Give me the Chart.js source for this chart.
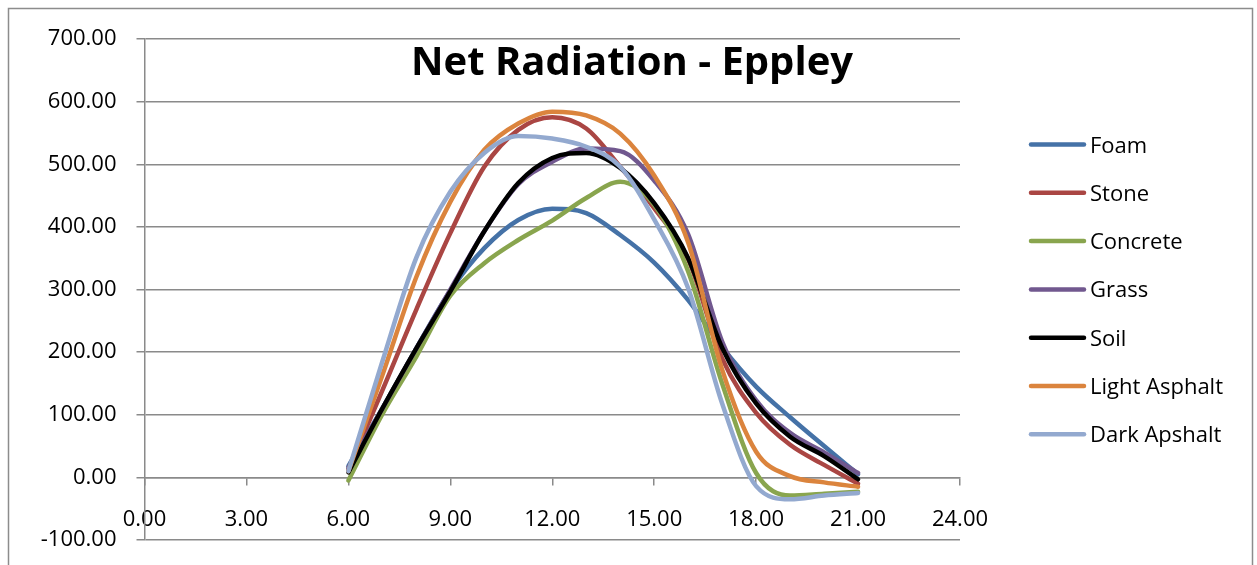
<!DOCTYPE html>
<html>
<head>
<meta charset="utf-8">
<script src="https://cdn.jsdelivr.net/npm/chart.js@4.4.1/dist/chart.umd.min.js"></script>
<style>
  html, body { margin: 0; padding: 0; background: #ffffff; }
  #wrap { width: 1257px; height: 565px; }
</style>
</head>
<body>
<div id="wrap"><canvas id="c" width="1257" height="565"></canvas></div>
<script>
// ---- data ----
const chartTitle = "Net Radiation - Eppley";
const hours = [6, 7, 8, 9, 10, 11, 12, 13, 14, 15, 16, 17, 18, 19, 20, 21];
const seriesNames = ["Foam", "Stone", "Concrete", "Grass", "Soil", "Light Asphalt", "Dark Apshalt"];
const foam         = [18, 110, 206, 298, 366, 411, 429, 422, 387, 343, 283, 208, 145, 96, 50, 5];
const stone        = [12, 139, 268, 390, 496, 555, 575, 557, 496, 430, 348, 190, 103, 52, 20, -10];
const concrete     = [-5, 101, 193, 290, 342, 379, 410, 446, 472, 435, 329, 150, 7, -29, -26, -23];
const grass        = [15, 110, 206, 300, 393, 468, 504, 525, 521, 474, 388, 217, 123, 71, 40, 7];
const soil         = [8, 110, 206, 297, 393, 470, 510, 518, 494, 438, 350, 207, 118, 65, 34, -3];
const lightAsphalt = [10, 163, 320, 440, 523, 565, 584, 578, 549, 482, 375, 172, 41, 2, -8, -15];
const darkApshalt  = [10, 185, 351, 456, 518, 545, 541, 528, 496, 412, 302, 118, -14, -35, -29, -25];
const xTickValues = [0, 3, 6, 9, 12, 15, 18, 21, 24];
const yTickValues = [-100, 0, 100, 200, 300, 400, 500, 600, 700];

// ---- styles ----
const seriesValues = [foam, stone, concrete, grass, soil, lightAsphalt, darkApshalt];
const seriesColors = ["#4572A7", "#AA4643", "#89A54E", "#71588F", "#000000", "#DB843D", "#93A9CF"];
const gridColor = "#8a8a8a";
const FONT = "'Open Sans', 'DejaVu Sans', sans-serif";

Chart.defaults.font.family = FONT;
Chart.defaults.font.size = 22;
Chart.defaults.color = "#000000";

const datasets = seriesNames.map((name, i) => ({
  label: name,
  data: hours.map((h, k) => ({ x: h, y: seriesValues[i][k] })),
  borderColor: seriesColors[i],
  backgroundColor: seriesColors[i],
  borderWidth: 4.5,
  pointRadius: 0,
  pointHoverRadius: 0,
  cubicInterpolationMode: "monotone",
  fill: false,
  order: -i,
  borderCapStyle: "round",
  borderJoinStyle: "round"
}));

const framePlugin = {
  id: "frame",
  beforeDraw(chart) {
    const ctx = chart.ctx;
    ctx.save();
    ctx.fillStyle = "#ffffff";
    ctx.fillRect(0, 0, chart.width, chart.height);
    ctx.strokeStyle = "#8c8c8c";
    ctx.lineWidth = 1.5;
    ctx.strokeRect(8.5, 8.5, 1244, 620);
    ctx.restore();
  }
};

const titlePlugin = {
  id: "insideTitle",
  afterDatasetsDraw(chart) {
    const ctx = chart.ctx;
    ctx.save();
    ctx.font = "bold 40px " + FONT;
    ctx.fillStyle = "#000000";
    ctx.textAlign = "center";
    ctx.textBaseline = "alphabetic";
    ctx.fillText(chartTitle, 632, 75);
    ctx.restore();
  }
};

const legendPlugin = {
  id: "sideLegend",
  afterDraw(chart) {
    const ctx = chart.ctx;
    ctx.save();
    chart.data.datasets.forEach((ds, i) => {
      const y = 144.5 + i * 48.3;
      ctx.strokeStyle = ds.borderColor;
      ctx.lineWidth = 4.5;
      ctx.lineCap = "round";
      ctx.beginPath();
      ctx.moveTo(1031, y);
      ctx.lineTo(1084, y);
      ctx.stroke();
      ctx.font = "22px " + FONT;
      ctx.fillStyle = "#000000";
      ctx.textAlign = "left";
      ctx.textBaseline = "alphabetic";
      ctx.fillText(ds.label, 1090, y + 8);
    });
    ctx.restore();
  }
};

new Chart(document.getElementById("c"), {
  type: "line",
  data: { datasets },
  plugins: [framePlugin, titlePlugin, legendPlugin],
  options: {
    responsive: false,
    animation: false,
    events: [],
    layout: { padding: { left: 10, right: 297, top: 39, bottom: 25 } },
    plugins: {
      legend: { display: false },
      title: { display: false },
      tooltip: { enabled: false }
    },
    scales: {
      x: {
        type: "linear",
        position: { y: 0 },
        min: 0,
        max: 24,
        afterBuildTicks(scale) { scale.ticks = xTickValues.map(v => ({ value: v })); },
        ticks: {
          callback: v => Number(v).toFixed(2),
          padding: 22,
          maxRotation: 0,
          autoSkip: false,
          color: "#000000"
        },
        grid: {
          drawOnChartArea: false,
          drawTicks: true,
          tickLength: 7,
          color: gridColor,
          lineWidth: 1.5
        },
        border: { display: true, color: gridColor, width: 1.5 }
      },
      y: {
        type: "linear",
        min: -100,
        max: 700,
        afterBuildTicks(scale) { scale.ticks = yTickValues.map(v => ({ value: v })); },
        afterFit(scale) {
          scale.width = 134.5;
          scale.paddingTop = 14;
          scale.paddingBottom = 14;
        },
        ticks: {
          callback: v => Number(v).toFixed(2),
          padding: 20,
          autoSkip: false,
          color: "#000000"
        },
        grid: {
          drawOnChartArea: true,
          drawTicks: true,
          tickLength: 8,
          color: gridColor,
          lineWidth: 1.5
        },
        border: { display: true, color: gridColor, width: 1.5 }
      }
    }
  }
});
</script>
</body>
</html>
